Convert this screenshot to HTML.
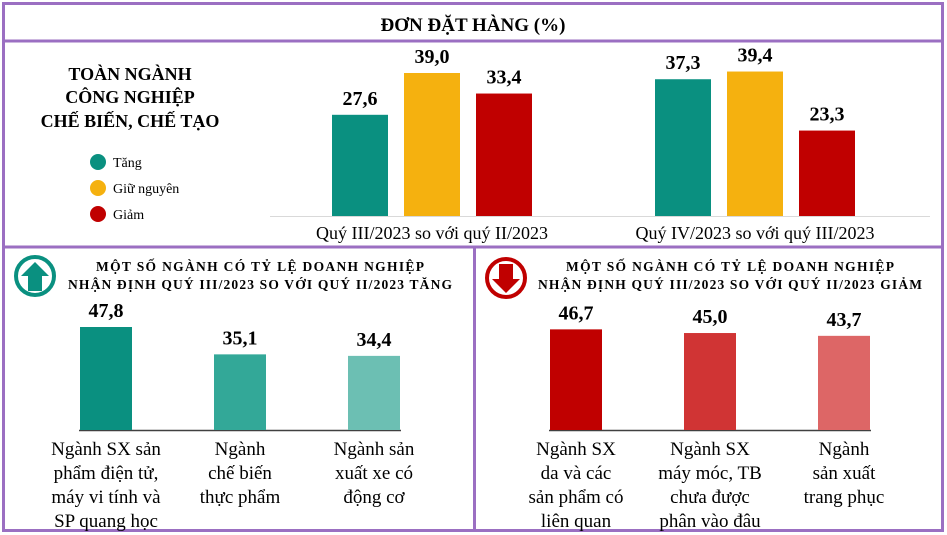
<!DOCTYPE html>
<html><head><meta charset="utf-8"><style>
html,body{margin:0;padding:0;background:#fff}
svg{display:block}
text{font-family:"Liberation Serif","DejaVu Serif",serif}
</style></head><body>
<svg id="s" width="947" height="535" viewBox="0 0 947 535" xmlns="http://www.w3.org/2000/svg">
<rect x="3.5" y="3.5" width="939" height="527" fill="none" stroke="#9b6fc2" stroke-width="3"/>
<line x1="3" y1="41" x2="943" y2="41" stroke="#9b6fc2" stroke-width="3"/>
<line x1="3" y1="247" x2="943" y2="247" stroke="#9b6fc2" stroke-width="3"/>
<line x1="474.5" y1="247" x2="474.5" y2="531" stroke="#9b6fc2" stroke-width="3"/>
<text x="473" y="31" text-anchor="middle" font-size="19" font-weight="bold">ĐƠN ĐẶT HÀNG (%)</text>
<g font-size="18" font-weight="bold" text-anchor="middle">
<text x="130" y="80">TOÀN NGÀNH</text>
<text x="130" y="103">CÔNG NGHIỆP</text>
<text x="130" y="127">CHẾ BIẾN, CHẾ TẠO</text>
</g>
<g id="legend" font-size="14"></g>
<g id="topchart"></g>
<g id="bl"></g>
<g id="br"></g>
<g>
<circle cx="35" cy="276" r="19" fill="none" stroke="#0a9080" stroke-width="4"/>
<polygon points="35,262 49,276 42,276 42,291 28,291 28,276 21,276" fill="#0a9080"/>
</g>
<g>
<circle cx="506" cy="278" r="19" fill="none" stroke="#c00000" stroke-width="4"/>
<polygon points="506,293 520,279 513,279 513,264 499,264 499,279 492,279" fill="#c00000"/>
</g>
<g font-size="13.5" font-weight="bold" text-anchor="middle">
<text x="260" y="271" textLength="328">MỘT SỐ NGÀNH CÓ TỶ LỆ DOANH NGHIỆP</text>
<text x="260" y="289" textLength="384">NHẬN ĐỊNH QUÝ III/2023 SO VỚI QUÝ II/2023 TĂNG</text>
<text x="730" y="271" textLength="328">MỘT SỐ NGÀNH CÓ TỶ LỆ DOANH NGHIỆP</text>
<text x="730" y="289" textLength="384">NHẬN ĐỊNH QUÝ III/2023 SO VỚI QUÝ II/2023 GIẢM</text>
</g>
</svg>
<script>
const NS="http://www.w3.org/2000/svg";
const seriesNames=["Tăng","Giữ nguyên","Giảm"];
const seriesColors=["#0a9080","#f5b10f","#c00000"];
const topCategories=["Quý III/2023 so với quý II/2023","Quý IV/2023 so với quý III/2023"];
const topTang=[27.6,37.3];
const topGiu=[39.0,39.4];
const topGiam=[33.4,23.3];
const incCategories=[["Ngành SX sản","phẩm điện tử,","máy vi tính và","SP quang học"],["Ngành","chế biến","thực phẩm"],["Ngành sản","xuất xe có","động cơ"]];
const incValues=[47.8,35.1,34.4];
const decCategories=[["Ngành SX","da và các","sản phẩm có","liên quan"],["Ngành SX","máy móc, TB","chưa được","phân vào đâu"],["Ngành","sản xuất","trang phục"]];
const decValues=[46.7,45.0,43.7];
const fmt=v=>v.toFixed(1).replace('.',',');
function el(p,t,a,txt){const e=document.createElementNS(NS,t);for(const k in a)e.setAttribute(k,a[k]);if(txt!=null)e.textContent=txt;p.appendChild(e);return e;}
const lg=document.getElementById('legend');
seriesNames.forEach((n,i)=>{
 const y=162+i*26;
 const c=el(lg,'circle',{cx:98,cy:y,r:8,fill:seriesColors[i]});
 
 
 const t=el(lg,'text',{x:113,y:y+5},n);
 
 
});
const topG=document.getElementById('topchart');
const tBase=216,tScale=143/39;
const ty=v=>tBase-v*tScale;
const groupX=[332,655],bw=56,step=72;
const topSeries=[topTang,topGiu,topGiam];
const ax=el(topG,'line',{x1:270,y1:tBase+0.5,x2:930,y2:tBase+0.5,stroke:'#d9d9d9','stroke-width':1});


topCategories.forEach((c,g)=>{
 topSeries.forEach((s,i)=>{
  const x=groupX[g]+i*step,v=s[g];
  const r=el(topG,'rect',{x:x,y:ty(v),width:bw,height:tBase-ty(v),fill:seriesColors[i]});
  
  
  const t=el(topG,'text',{x:x+bw/2,y:ty(v)-10,'text-anchor':'middle','font-size':20,'font-weight':'bold'},fmt(v));
  
  
 });
 const t=el(topG,'text',{x:groupX[g]+bw/2+step,y:239,'text-anchor':'middle','font-size':18},c);
 
 
});
function bottom(id,x0,cats,vals,colors,axName){
 const g=document.getElementById(id);
 const base=430,scale=103/47.8,bw2=52,st=134;
 const a=el(g,'line',{x1:x0-1,y1:base+0.5,x2:x0+2*st+bw2+1,y2:base+0.5,stroke:'#404040','stroke-width':1.5});
 
 
 vals.forEach((v,i)=>{
  const x=x0+i*st,h=v*scale;
  const r=el(g,'rect',{x:x,y:base-h,width:bw2,height:h,fill:colors[i]});
  
  
  const t=el(g,'text',{x:x+bw2/2,y:base-h-10,'text-anchor':'middle','font-size':20,'font-weight':'bold'},fmt(v));
  
  
  cats[i].forEach((line,j)=>{
   const tt=el(g,'text',{x:x+bw2/2,y:455+j*24,'text-anchor':'middle','font-size':19},line);
   
   
  });
 });
}
bottom('bl',80,incCategories,incValues,["#0a9080","#33a898","#6cbfb3"],'increase-x-axis');
bottom('br',550,decCategories,decValues,["#c00000","#d03434","#dd6666"],'decrease-x-axis');
</script>
</body></html>
